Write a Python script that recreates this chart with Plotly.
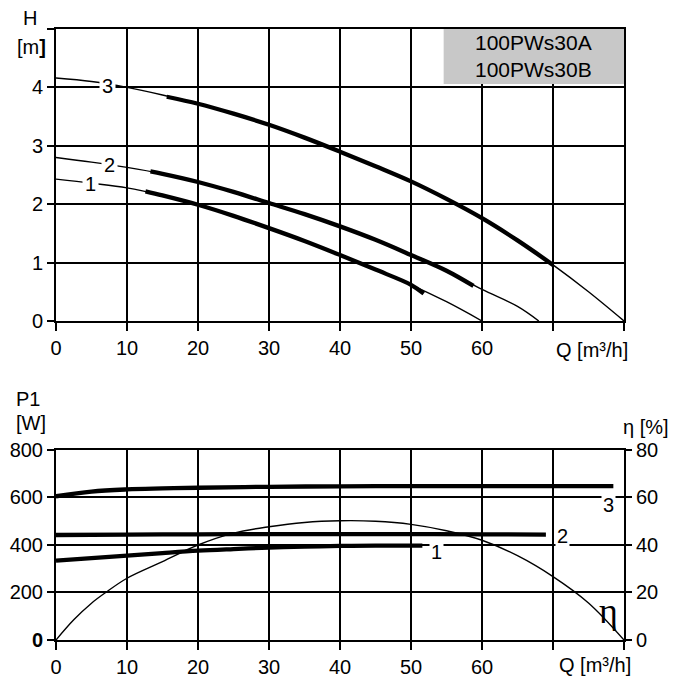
import plotly.graph_objects as go

# ---------------- data ----------------
# Top chart: head H [m] vs flow Q [m3/h]
Q_H3 = [0, 5, 10, 15, 20, 25, 30, 35, 40, 45, 50, 55, 60, 65, 70, 75, 80]
H3 = [4.16, 4.10, 4.00, 3.87, 3.72, 3.55, 3.36, 3.14, 2.90, 2.65, 2.39, 2.09, 1.76, 1.38, 0.96, 0.50, 0.0]
Q_H3_op = [15.6, 20, 25, 30, 35, 40, 45, 50, 55, 60, 65, 70]
H3_op = [3.84, 3.72, 3.55, 3.36, 3.14, 2.90, 2.65, 2.39, 2.09, 1.76, 1.38, 0.96]

Q_H2 = [0, 5, 10, 15, 20, 25, 30, 35, 40, 45, 50, 55, 60, 65, 68]
H2 = [2.80, 2.72, 2.63, 2.52, 2.38, 2.21, 2.02, 1.83, 1.62, 1.39, 1.13, 0.86, 0.54, 0.25, 0.0]
Q_H2_op = [13.3, 15, 20, 25, 30, 35, 40, 45, 50, 55, 58.8]
H2_op = [2.56, 2.52, 2.38, 2.21, 2.02, 1.83, 1.62, 1.39, 1.13, 0.86, 0.60]

Q_H1 = [0, 5, 10, 15, 20, 25, 30, 35, 40, 45, 50, 55, 60]
H1 = [2.43, 2.36, 2.28, 2.15, 1.99, 1.80, 1.59, 1.37, 1.13, 0.88, 0.62, 0.33, 0.0]
Q_H1_op = [12.6, 15, 20, 25, 30, 35, 40, 45, 50, 51.8]
H1_op = [2.22, 2.15, 1.99, 1.80, 1.59, 1.37, 1.13, 0.88, 0.62, 0.47]

# Bottom chart: power P1 [W] and efficiency eta [%]
Q_P3 = [0, 5, 10, 15, 20, 30, 40, 50, 60, 70, 78.5]
P3 = [605, 625, 634, 638, 641, 645, 647, 648, 648, 648, 648]
Q_P2 = [0, 10, 20, 30, 40, 50, 60, 69]
P2 = [442, 444, 445, 446, 446, 446, 445, 444]
Q_P1 = [0, 5, 10, 15, 20, 25, 30, 35, 40, 45, 51.6]
P1 = [334, 345, 355, 366, 376, 383, 389, 393, 396, 397, 397]
Q_eta = [0, 2.5, 5, 7, 10, 15, 20, 25, 30, 35, 40, 45, 50, 55, 60, 65, 70, 75, 80]
ETA = [0, 8.5, 15.5, 20, 26, 33, 40, 45, 47.7, 49.5, 50.2, 50, 48.7, 46, 42, 35.5, 26.7, 15.6, 0]

Q_ticks = [0, 10, 20, 30, 40, 50, 60, 70, 80]
Q_ticktext = ["0", "10", "20", "30", "40", "50", "60", "", ""]
H_ticks = [0, 1, 2, 3, 4, 5]
H_ticktext = ["0", "1", "2", "3", "4", ""]
P_ticks = [0, 200, 400, 600, 800]
P_ticktext = ["<b>0</b>", "200", "400", "600", "800"]
ETA_ticks = [0, 20, 40, 60, 80]
ETA_ticktext = ["0", "20", "40", "60", "80"]
model_names = ["100PWs30A", "100PWs30B"]

# ---------------- figure ----------------
FONT = "Liberation Sans, Arial, Helvetica, sans-serif"
FS = 20
THIN = 1.4
THICK = 4.3
BLACK = "#000000"

fig = go.Figure()

def add_line(x, y, xa, ya, w):
    fig.add_trace(go.Scatter(x=x, y=y, xaxis=xa, yaxis=ya, mode="lines",
                             line=dict(color=BLACK, width=w, shape="spline", smoothing=1.0),
                             hoverinfo="skip", showlegend=False))

# top chart
for qx, hy in [(Q_H3, H3), (Q_H2, H2), (Q_H1, H1)]:
    add_line(qx, hy, "x", "y", THIN)
for qx, hy in [(Q_H3_op, H3_op), (Q_H2_op, H2_op), (Q_H1_op, H1_op)]:
    add_line(qx, hy, "x", "y", THICK)

# bottom chart
add_line(Q_eta, ETA, "x2", "y3", THIN)
for qx, py in [(Q_P3, P3), (Q_P2, P2), (Q_P1, P1)]:
    add_line(qx, py, "x2", "y2", THICK)

axis_common = dict(showline=True, linecolor=BLACK, linewidth=2, mirror=True,
                   showgrid=True, gridcolor=BLACK, gridwidth=1.8, automargin=False,
                   ticks="outside", tickcolor=BLACK, tickwidth=2,
                   zeroline=False, tickfont=dict(family=FONT, size=FS, color=BLACK))

TOP_DOM = [0.5221, 1.0]
BOT_DOM = [0.0, 0.3110]

fig.update_layout(
    width=676, height=682,
    margin=dict(l=56, r=52, t=29, b=42, autoexpand=False),
    paper_bgcolor="white", plot_bgcolor="white",
    font=dict(family=FONT, size=FS, color=BLACK),
    xaxis=dict(domain=[0, 1], anchor="y", range=[0, 80], tickmode="array",
               tickvals=Q_ticks, ticktext=Q_ticktext, ticklen=8, **axis_common),
    yaxis=dict(domain=TOP_DOM, anchor="x", range=[0, 5], tickmode="array",
               tickvals=H_ticks, ticktext=H_ticktext, ticklen=7, **axis_common),
    xaxis2=dict(domain=[0, 1], anchor="y2", range=[0, 80], tickmode="array",
                tickvals=Q_ticks, ticktext=Q_ticktext, ticklen=8, **axis_common),
    yaxis2=dict(domain=BOT_DOM, anchor="x2", range=[0, 800], tickmode="array",
                tickvals=P_ticks, ticktext=P_ticktext, ticklen=7, **axis_common),
    yaxis3=dict(overlaying="y2", anchor="x2", side="right", range=[0, 80],
                tickmode="array", tickvals=ETA_ticks, ticktext=ETA_ticktext,
                showline=False, showgrid=False, zeroline=False, automargin=False,
                ticks="outside", tickcolor=BLACK, tickwidth=2, ticklen=7,
                tickfont=dict(family=FONT, size=FS, color=BLACK)),
)

# grey model box
fig.add_shape(type="rect", xref="x", yref="y", x0=54.6, x1=80, y0=4.06, y1=5,
              fillcolor="#c8c8c8", line=dict(width=0), layer="between")
fig.add_annotation(xref="x", yref="y", x=67.3, y=4.53, text="<br>".join(model_names),
                   showarrow=False, font=dict(family=FONT, size=21, color=BLACK),
                   xanchor="center", yanchor="middle")

def label(text, x, y, xref="paper", yref="paper", size=FS, bg=None, family=FONT, pad=0):
    fig.add_annotation(text=text, x=x, y=y, xref=xref, yref=yref, showarrow=False,
                       xanchor="center", yanchor="middle",
                       font=dict(family=family, size=size, color=BLACK),
                       bgcolor=bg, borderpad=pad)

# axis titles
label("H", -0.0456, 1.018)
label("[m<b>]</b>", -0.0439, 0.9705)
label("Q [m³/h]", 0.943, 0.4746)
label("P1", -0.0491, 0.3944)
label("[W]", -0.0439, 0.3552)
label("η [%]", 1.038, 0.3486)
label("Q [m³/h]", 0.949, -0.041)

# curve labels
label("3", 7.24, 4.03, "x", "y", bg="white", pad=2)
label("2", 7.6, 2.67, "x", "y", bg="white", pad=2)
label("1", 4.8, 2.34, "x", "y", bg="white", pad=2)
label("1", 53.6, 370, "x2", "y2", bg="white", pad=1)
label("2", 71.3, 438, "x2", "y2", bg="white", pad=1)
label("3", 77.8, 570, "x2", "y2", bg="white", pad=1)
label("η", 77.8, 12.2, "x2", "y3", size=36, family="Liberation Serif, Times New Roman, serif")

fig.write_html("out.html", config={"displayModeBar": False},
               post_script="document.body.style.margin='0';document.body.style.overflow='hidden';")
